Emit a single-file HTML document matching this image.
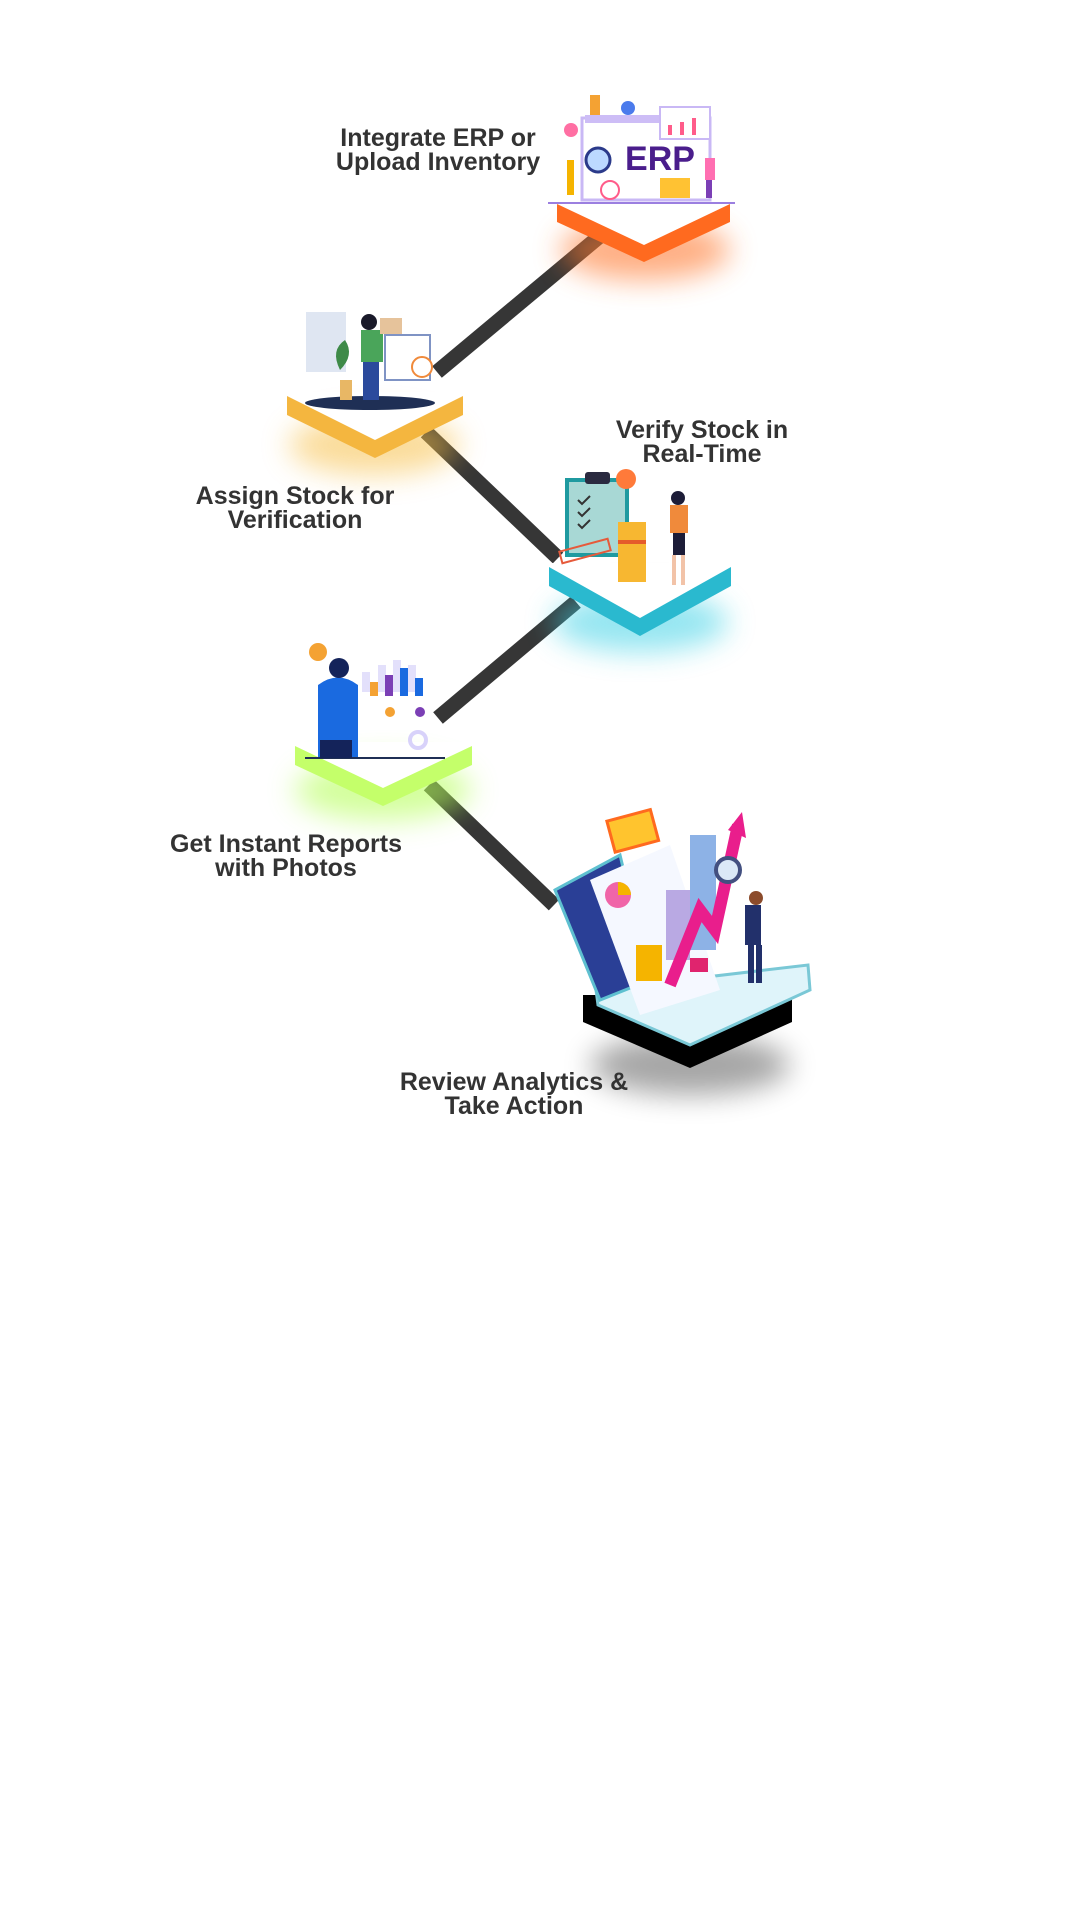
<!DOCTYPE html>
<html><head><meta charset="utf-8"><style>
html,body{margin:0;padding:0;background:#fff;}
svg{display:block}
text{font-family:"Liberation Sans",sans-serif;font-weight:bold;fill:#333;font-size:25px;text-anchor:middle}
</style></head><body>
<svg width="1080" height="1920" viewBox="0 0 1080 1920" xmlns="http://www.w3.org/2000/svg">
<defs>
<filter id="b" x="-50%" y="-50%" width="200%" height="200%"><feGaussianBlur stdDeviation="14"/></filter>
</defs>
<!-- connectors -->
<g stroke="#363636" stroke-width="15" stroke-linecap="butt">
<line x1="600" y1="236" x2="437" y2="372"/>
<line x1="426" y1="432" x2="558" y2="558"/>
<line x1="576" y1="602" x2="438" y2="718"/>
<line x1="429" y1="785" x2="554" y2="905"/>
</g>

<!-- Platform 1 orange -->
<ellipse cx="645" cy="250" rx="85" ry="30" fill="#ff7a30" opacity=".6" filter="url(#b)"/>
<polygon points="557,203 730,203 730,222 644,262 557,222" fill="#ff6a1f"/>
<polygon points="557,200 730,200 730,204 644,245 557,204" fill="#fff"/>
<line x1="548" y1="203" x2="735" y2="203" stroke="#9b7fe0" stroke-width="2"/>
<!-- ERP illustration -->
<rect x="582" y="118" width="128" height="82" fill="#fff" stroke="#c9b8f5" stroke-width="3"/>
<rect x="585" y="115" width="120" height="8" fill="#cdbdf6"/>
<text x="660" y="170" style="font-size:34px;fill:#4a1d8c">ERP</text>
<circle cx="598" cy="160" r="12" fill="#bcd9ff" stroke="#2b3a8a" stroke-width="3"/>
<rect x="660" y="178" width="30" height="20" fill="#ffc233"/>
<circle cx="610" cy="190" r="9" fill="#fff" stroke="#ff5c8a" stroke-width="2"/>
<rect x="660" y="107" width="50" height="32" fill="#fff" stroke="#c9b8f5" stroke-width="2"/>
<g fill="#ff5c8a"><rect x="668" y="125" width="4" height="10"/><rect x="680" y="122" width="4" height="13"/><rect x="692" y="118" width="4" height="17"/></g>
<circle cx="628" cy="108" r="7" fill="#4b7bec"/>
<rect x="590" y="95" width="10" height="20" fill="#f4a233"/>
<circle cx="571" cy="130" r="7" fill="#ff6fa3"/>
<rect x="567" y="160" width="7" height="35" fill="#f5b400"/>
<rect x="705" y="158" width="10" height="22" fill="#ff6fb1"/>
<rect x="706" y="180" width="6" height="18" fill="#7b3fb5"/>

<!-- Platform 2 yellow -->
<ellipse cx="374" cy="445" rx="85" ry="30" fill="#f7c04a" opacity=".55" filter="url(#b)"/>
<polygon points="287,395 463,395 463,415 375,458 287,415" fill="#f4b63f"/>
<polygon points="287,392 463,392 463,396 375,440 287,396" fill="#fff"/>
<ellipse cx="370" cy="403" rx="65" ry="7" fill="#1f2f55"/>
<rect x="306" y="312" width="40" height="60" fill="#dfe6f2"/>
<rect x="385" y="335" width="45" height="45" fill="#fff" stroke="#7f93c4" stroke-width="2"/>
<circle cx="422" cy="367" r="10" fill="#fff" stroke="#f08a3b" stroke-width="2"/>
<rect x="361" y="330" width="22" height="32" fill="#4aa55a"/>
<rect x="363" y="362" width="16" height="38" fill="#2b4a9c"/>
<circle cx="369" cy="322" r="8" fill="#1a1a2a"/>
<rect x="380" y="318" width="22" height="16" fill="#e6c39b"/>
<path d="M340 370 q-10 -20 5 -30 q10 15 -5 30z" fill="#3e8a48"/>
<rect x="340" y="380" width="12" height="20" fill="#e8b765"/>

<!-- Platform 3 cyan -->
<ellipse cx="640" cy="622" rx="88" ry="30" fill="#3fd2e6" opacity=".55" filter="url(#b)"/>
<polygon points="549,566 731,566 731,586 640,636 549,586" fill="#2ab9cf"/>
<polygon points="549,563 731,563 731,567 640,618 549,567" fill="#fff"/>
<rect x="567" y="480" width="60" height="75" fill="#a8d8d5" stroke="#1f9aa0" stroke-width="4"/>
<rect x="585" y="472" width="25" height="12" rx="3" fill="#2a2a40"/>
<g stroke="#333" stroke-width="2" fill="none"><path d="M578 500l4 4 8-8M578 512l4 4 8-8M578 524l4 4 8-8"/></g>
<circle cx="626" cy="479" r="10" fill="#ff7a3a"/>
<rect x="618" y="522" width="28" height="60" fill="#f7b731"/>
<rect x="618" y="540" width="28" height="4" fill="#e55b2b"/>
<rect x="673" y="530" width="12" height="25" fill="#1d1d38"/>
<rect x="670" y="505" width="18" height="28" fill="#f08a3b"/>
<circle cx="678" cy="498" r="7" fill="#1d1d38"/>
<rect x="672" y="555" width="4" height="30" fill="#f2c3a8"/><rect x="681" y="555" width="4" height="30" fill="#f2c3a8"/>
<rect x="560" y="545" width="50" height="12" fill="none" stroke="#e65a3b" stroke-width="2" transform="rotate(-15 585 551)"/>

<!-- Platform 4 green -->
<ellipse cx="383" cy="790" rx="88" ry="30" fill="#b6ff5a" opacity=".6" filter="url(#b)"/>
<polygon points="295,745 472,745 472,765 383,806 295,765" fill="#c4ff6a"/>
<polygon points="295,742 472,742 472,746 383,788 295,746" fill="#fff"/>
<line x1="305" y1="758" x2="445" y2="758" stroke="#1f2f55" stroke-width="2"/>
<g fill="#e3e0fb"><rect x="362" y="672" width="8" height="20"/><rect x="378" y="665" width="8" height="27"/><rect x="393" y="660" width="8" height="32"/><rect x="408" y="665" width="8" height="27"/></g>
<g><rect x="370" y="682" width="8" height="14" fill="#f4a233"/><rect x="385" y="675" width="8" height="21" fill="#7b3fb5"/><rect x="400" y="668" width="8" height="28" fill="#1a6ae0"/><rect x="415" y="678" width="8" height="18" fill="#1a6ae0"/></g>
<circle cx="318" cy="652" r="9" fill="#f4a233"/>
<path d="M318 685 q20 -15 40 0 l0 72 l-40 0z" fill="#1a6ae0"/>
<circle cx="339" cy="668" r="10" fill="#14235a"/>
<rect x="320" y="740" width="32" height="18" fill="#14235a"/>
<circle cx="390" cy="712" r="5" fill="#f4a233"/><circle cx="420" cy="712" r="5" fill="#7b3fb5"/>
<circle cx="418" cy="740" r="8" fill="none" stroke="#d8d2fa" stroke-width="4"/>

<!-- Platform 5 analytics -->
<ellipse cx="690" cy="1065" rx="100" ry="30" fill="#000" opacity=".35" filter="url(#b)"/>
<polygon points="583,995 792,995 792,1022 690,1068 583,1022" fill="#000"/>
<polygon points="596,990 808,965 810,990 690,1045 598,1005" fill="#dff4fa" stroke="#7ac8d6" stroke-width="3"/>
<polygon points="555,890 620,855 650,980 600,1000" fill="#2a3f96" stroke="#5ec0d0" stroke-width="3"/>
<polygon points="590,880 670,845 720,990 640,1015" fill="#f5f8ff"/>
<circle cx="618" cy="895" r="13" fill="#f065a8"/><path d="M618 882 a13 13 0 0 1 13 13 l-13 0z" fill="#f5b400"/>
<rect x="610" y="815" width="45" height="32" fill="#ffc42e" stroke="#ff6a1f" stroke-width="3" transform="rotate(-15 632 830)"/>
<rect x="636" y="945" width="26" height="36" fill="#f5b400"/>
<rect x="666" y="890" width="24" height="70" fill="#b9a9e3"/>
<rect x="690" y="835" width="26" height="115" fill="#8db2e6"/>
<polyline points="670,985 700,910 715,930 738,825" fill="none" stroke="#e91e8c" stroke-width="12"/>
<polygon points="728,830 742,812 746,838" fill="#e91e8c"/>
<circle cx="728" cy="870" r="12" fill="#dbe9f7" stroke="#435080" stroke-width="4"/>
<rect x="745" y="905" width="16" height="40" fill="#22306b"/>
<rect x="748" y="945" width="6" height="38" fill="#22306b"/><rect x="756" y="945" width="6" height="38" fill="#22306b"/>
<circle cx="756" cy="898" r="7" fill="#8b4b2b"/>
<rect x="690" y="958" width="18" height="14" fill="#e0246e"/>

<!-- labels -->
<text x="438" y="146">Integrate ERP or</text>
<text x="438" y="170">Upload Inventory</text>
<text x="295" y="504">Assign Stock for</text>
<text x="295" y="528">Verification</text>
<text x="702" y="438">Verify Stock in</text>
<text x="702" y="462">Real-Time</text>
<text x="286" y="852">Get Instant Reports</text>
<text x="286" y="876">with Photos</text>
<text x="514" y="1090">Review Analytics &amp;</text>
<text x="514" y="1114">Take Action</text>
</svg>
</body></html>
